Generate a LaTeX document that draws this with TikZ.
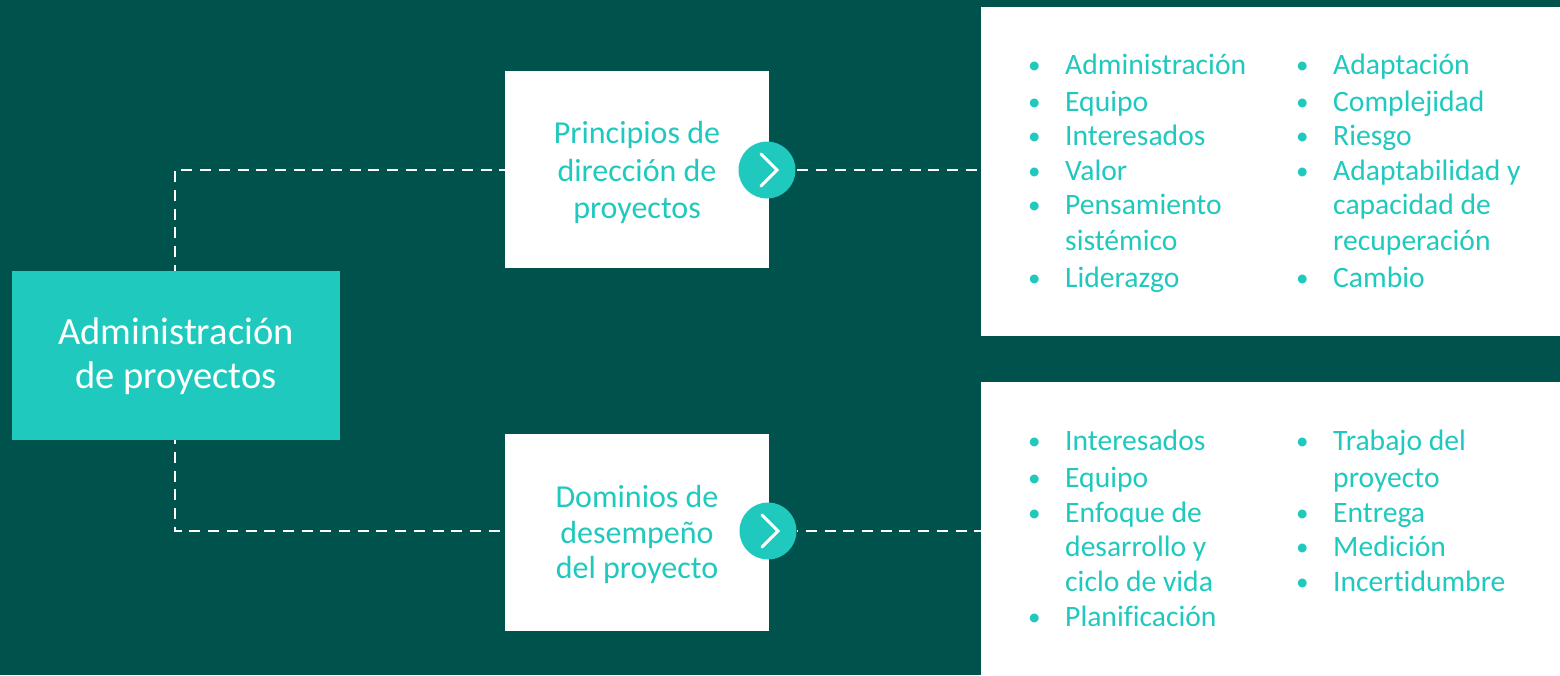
\documentclass[tikz,border=0pt]{standalone}
\usepackage{fontspec}
\setmainfont{Carlito}[Ligatures=NoCommon]
\usepackage{xcolor}
\usetikzlibrary{positioning}
\definecolor{fondo}{HTML}{00524D}
\definecolor{turquesa}{HTML}{1FC9BE}
\tikzstyle{principal} = [fill=turquesa, minimum width=328pt, minimum height=169pt, inner sep=0pt]
\tikzstyle{principaltexto} = [text=white, inner sep=0pt, align=center, font=\fontsize{38.5}{44}\selectfont]
\tikzstyle{titulo} = [fill=white, minimum width=264pt, minimum height=197pt, inner sep=0pt]
\tikzstyle{titulotexto} = [text=turquesa, inner sep=0pt, align=center, font=\fontsize{32}{37.5}\selectfont]
\tikzstyle{panel} = [fill=white, minimum width=579pt, inner sep=0pt]
\tikzstyle{siguiente} = [circle, fill=turquesa, minimum size=57pt, inner sep=0pt]
\tikzstyle{elemento} = [text=turquesa, anchor=base west, inner sep=0pt, font=\fontsize{29.6}{34}\selectfont]
\tikzstyle{punto} = [text=turquesa, anchor=base west, inner sep=0pt, font=\fontsize{25}{34}\selectfont]
\tikzstyle{punteada} = [draw=white, line width=2.8pt]
\tikzstyle{flecha} = [draw=white, line width=3pt, line cap=round, line join=miter]

\begin{document}
\begin{tikzpicture}[x=1pt,y=-1pt]
	\useasboundingbox (0,0) rectangle (1560,675);
	\fill[fondo] (0,0) rectangle (1560,675);
	\node[panel, minimum height=329pt](panelprincipios) at (1270.5,171.5) {};
	\node[panel, minimum height=293pt](paneldominios) at (1270.5,528.5) {};
	\node[principal](admin) at (176,355.5) {};
	\node[principaltexto, yshift=-1pt](textoadmin) at (admin) {Administración\\de proyectos};
	\node[titulo](principios) at (637,169.5) {};
	\node[titulo](dominios) at (637,532.5) {};
	\node[titulotexto, yshift=-3pt](textoprincipios) at (principios) {Principios de\\dirección de\\proyectos};
	\node[titulotexto, yshift=-2pt](textodominios) at (dominios) {Dominios de\\[-2pt]desempeño\\[-2pt]del proyecto};
	\node[siguiente](sigprincipios) at (767,170) {};
	\node[siguiente](sigdominios) at (768,531) {};
	% conectores
	\draw[punteada, dash pattern=on 11pt off 7.7pt, dash phase=5pt] ([xshift=-1pt]admin.north) |- (principios.west |- sigprincipios);
	\draw[punteada, dash pattern=on 11pt off 7.7pt, dash phase=7pt] ([xshift=-1pt]admin.south) |- (dominios.west |- sigdominios);
	\draw[punteada, dash pattern=on 11pt off 7.7pt, dash phase=17pt] (sigprincipios.east) -- (sigprincipios.east -| panelprincipios.west);
	\draw[punteada, dash pattern=on 11pt off 7.7pt, dash phase=9.5pt] (sigdominios.east) -- (sigdominios.east -| paneldominios.west);
	\draw[flecha] (761,154) -- (777,170) -- (761,186);
	\draw[flecha] (762,515) -- (778,531) -- (762,547);
	% listas
	\foreach \n/\x/\y/\b/\t in {
		a/1065/74/1/Administración, b/1065/111/1/Equipo, c/1065/145/1/Interesados, d/1065/180/1/Valor,
		e/1065/214/1/Pensamiento, f/1065/250/0/sistémico, g/1065/287/1/Liderazgo,
		h/1333/74/1/Adaptación, i/1333/111/1/Complejidad, j/1333/145/1/Riesgo, k/1333/180/1/Adaptabilidad y,
		l/1333/214/0/capacidad de, m/1333/250/0/recuperación, n/1333/287/1/Cambio,
		o/1065/450/1/Interesados, p/1065/487/1/Equipo, q/1065/522/1/Enfoque de, r/1065/556/0/desarrollo y,
		s/1065/591/0/ciclo de vida, t/1065/626/1/Planificación,
		u/1333/450/1/Trabajo del, v/1333/487/0/proyecto, w/1333/522/1/Entrega, y/1333/556/1/Medición,
		z/1333/591/1/Incertidumbre}{
		\node[elemento](item\n) at (\x,\y) {\t};
		\ifnum\b=1
			\node[punto](punto\n) at (\x-37,\y-1) {•};
		\fi
	}
\end{tikzpicture}
\end{document}
